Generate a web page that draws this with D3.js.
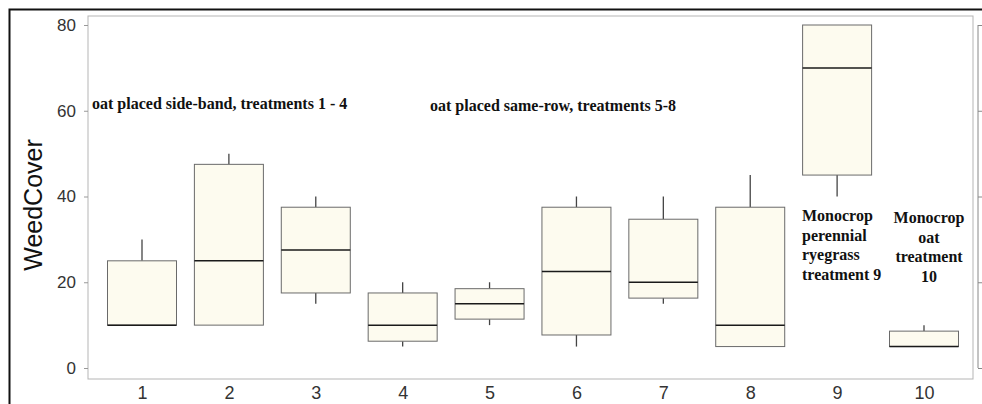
<!DOCTYPE html>
<html>
<head>
<meta charset="utf-8">
<script src="https://cdn.jsdelivr.net/npm/d3@7"></script>
<style>
  html, body { margin: 0; padding: 0; background: #fff; }
  svg { display: block; }
</style>
</head>
<body>
<svg id="chart" width="982" height="404"></svg>
<script>
// Weed cover by treatment: box summaries (lower whisker, Q1, median, Q3, upper whisker)
const treatments   = ["1", "2", "3", "4", "5", "6", "7", "8", "9", "10"];
const whiskerLow   = [10, 10, 15, 5, 10, 5, 15, 5, 40, 5];
const quartile1    = [10, 10, 17.5, 6.25, 11.4, 7.7, 16.3, 5, 45, 5];
const medians      = [10, 25, 27.5, 10, 15, 22.5, 20, 10, 70, 5];
const quartile3    = [25, 47.5, 37.5, 17.5, 18.5, 37.5, 34.7, 37.5, 80, 8.6];
const whiskerHigh  = [30, 50, 40, 20, 20, 40, 40, 45, 80, 10];
const yTicks       = [0, 20, 40, 60, 80];
const yLabel       = "WeedCover";

const boxes = treatments.map((t, i) => ({
  t, lo: whiskerLow[i], q1: quartile1[i], med: medians[i], q3: quartile3[i], hi: whiskerHigh[i]
}));

const svg = d3.select("#chart");

// frame of the plotting region
const frame = { left: 88, right: 973, top: 16, bottom: 379 };

const x = d3.scalePoint().domain(treatments).range([142, 924]);
const y = d3.scaleLinear().domain([0, 80]).range([368, 25]);
const boxW = 69;

// outer black border
svg.append("rect")
  .attr("x", 9.5).attr("y", 9.5)
  .attr("width", 990).attr("height", 420)
  .attr("fill", "none").attr("stroke", "#111").attr("stroke-width", 2);

// plot frame
svg.append("rect")
  .attr("x", frame.left).attr("y", frame.top)
  .attr("width", frame.right - frame.left).attr("height", frame.bottom - frame.top)
  .attr("fill", "#fff").attr("stroke", "#b5b5b5").attr("stroke-width", 1);

// left axis
const yAxis = svg.append("g")
  .attr("transform", `translate(${frame.left},0)`)
  .call(d3.axisLeft(y).tickValues(yTicks).tickSize(4).tickPadding(8));
yAxis.select(".domain").remove();
yAxis.selectAll("line").attr("stroke", "#999");
yAxis.selectAll("text")
  .attr("font-family", "'Liberation Sans', Arial, sans-serif")
  .attr("font-size", 17).attr("fill", "#333");

// right axis
const rAxis = svg.append("g")
  .attr("transform", "translate(978,0)")
  .call(d3.axisRight(y).tickValues(yTicks).tickSize(4).tickFormat(""));
rAxis.select(".domain").attr("stroke", "#888").attr("d", `M0,${y(80)}V${y(0)}`);
rAxis.selectAll("line").attr("stroke", "#888");

// bottom axis labels
const xAxis = svg.append("g")
  .attr("transform", `translate(0,${frame.bottom})`)
  .call(d3.axisBottom(x).tickSize(0).tickPadding(7));
xAxis.select(".domain").remove();
xAxis.selectAll("text")
  .attr("font-family", "'Liberation Sans', Arial, sans-serif")
  .attr("font-size", 18).attr("fill", "#333");

// y axis title
svg.append("text")
  .attr("transform", "translate(42,205) rotate(-90)")
  .attr("text-anchor", "middle")
  .attr("font-family", "'Liberation Sans', Arial, sans-serif")
  .attr("font-size", 25).attr("fill", "#111")
  .text(yLabel);

// boxes
const g = svg.append("g");
const bx = g.selectAll("g.box").data(boxes).join("g").attr("class", "box");

bx.append("line")
  .attr("x1", d => x(d.t)).attr("x2", d => x(d.t))
  .attr("y1", d => y(d.hi)).attr("y2", d => y(d.q3))
  .attr("stroke", "#444").attr("stroke-width", 1.3);
bx.append("line")
  .attr("x1", d => x(d.t)).attr("x2", d => x(d.t))
  .attr("y1", d => y(d.q1)).attr("y2", d => y(d.lo))
  .attr("stroke", "#444").attr("stroke-width", 1.3);
bx.append("rect")
  .attr("x", d => x(d.t) - boxW / 2).attr("width", boxW)
  .attr("y", d => y(d.q3)).attr("height", d => y(d.q1) - y(d.q3))
  .attr("fill", "#fdfbef").attr("stroke", "#6a6a6a").attr("stroke-width", 1);
bx.append("line")
  .attr("x1", d => x(d.t) - boxW / 2).attr("x2", d => x(d.t) + boxW / 2)
  .attr("y1", d => y(d.med)).attr("y2", d => y(d.med))
  .attr("stroke", "#1a1a1a").attr("stroke-width", 1.5);

// annotations
const serif = "'Liberation Serif', 'Times New Roman', serif";
function note(lines, xPos, yPos, anchor) {
  const t = svg.append("text")
    .attr("font-family", serif).attr("font-weight", "bold")
    .attr("font-size", 16).attr("fill", "#111")
    .attr("text-anchor", anchor);
  lines.forEach((s, i) => {
    t.append("tspan").attr("x", xPos).attr("y", yPos + i * 19.5).text(s);
  });
}
note(["oat placed side-band, treatments 1 - 4"], 92, 109, "start");
note(["oat placed same-row, treatments 5-8"], 430, 111, "start");
note(["Monocrop", "perennial", "ryegrass", "treatment 9"], 802, 221, "start");
note(["Monocrop", "oat", "treatment", "10"], 929, 223, "middle");
</script>
</body>
</html>
